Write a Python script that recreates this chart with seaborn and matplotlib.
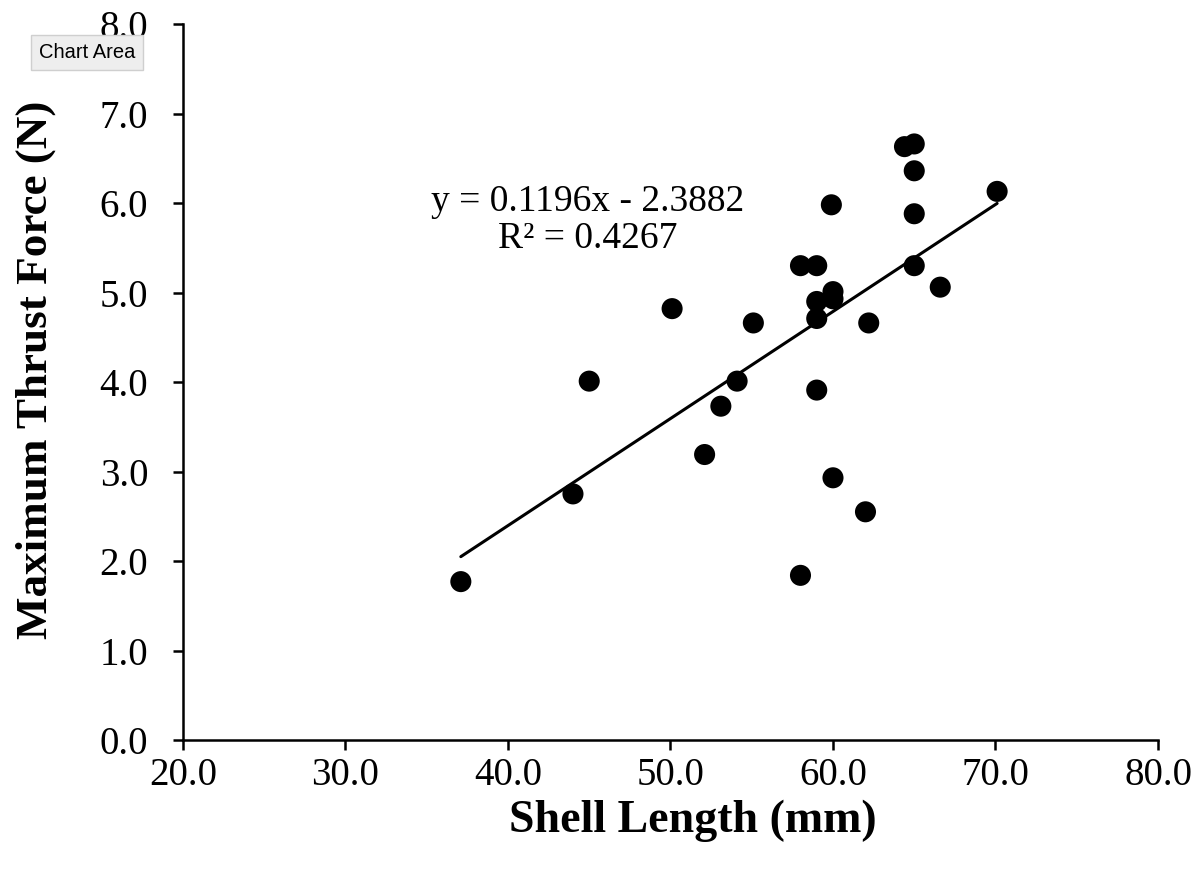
import numpy as np
import pandas as pd
import matplotlib
matplotlib.use("Agg")
import matplotlib.pyplot as plt
import seaborn as sns

# shell length (mm) and max thrust force (N)
shell_length = [37.1, 44.0, 45.0, 50.1, 52.1, 53.1, 54.1, 55.1, 58.0, 58.0,
                59.0, 59.0, 59.0, 59.0, 59.9, 60.0, 60.0, 60.0, 62.0, 62.2,
                64.4, 65.0, 65.0, 65.0, 65.0, 66.6, 70.1]
thrust_force = [1.77, 2.75, 4.01, 4.82, 3.19, 3.73, 4.01, 4.66, 5.30, 1.84,
                5.30, 4.90, 4.71, 3.91, 5.98, 5.01, 4.93, 2.93, 2.55, 4.66,
                6.63, 6.66, 6.36, 5.88, 5.30, 5.06, 6.13]

# trendline as reported on the chart
slope = 0.1196
intercept = -2.3882
r_squared = 0.4267

x_ticks = [20, 30, 40, 50, 60, 70, 80]
y_ticks = [0, 1, 2, 3, 4, 5, 6, 7, 8]

df = pd.DataFrame({'shell_length': shell_length, 'thrust_force': thrust_force})

sns.set_style('ticks')
plt.rcParams['font.family'] = ['Liberation Serif', 'DejaVu Serif']
plt.rcParams['text.color'] = 'black'
plt.rcParams['axes.labelcolor'] = 'black'

fig = plt.figure(figsize=(12.02, 8.73), dpi=100)
ax = fig.add_axes([0.1522, 0.1523, 0.8112, 0.8202])

sns.scatterplot(data=df, x='shell_length', y='thrust_force', ax=ax,
                color='black', s=230, edgecolor='none', zorder=3)

# linear trendline over the data range
line_x = np.array([min(shell_length), max(shell_length)])
ax.plot(line_x, slope * line_x + intercept, color='black', lw=2.2, zorder=2)

ax.text(44.9, 5.81, f'y = {slope}x - {abs(intercept)}\nR² = {r_squared}',
        ha='center', va='center', fontsize=27, linespacing=1.1, color='black')

ax.set_xlim(20, 80)
ax.set_ylim(0, 8)
ax.set_xticks(x_ticks)
ax.set_yticks(y_ticks)
ax.set_xticklabels([f'{t:.1f}' for t in x_ticks])
ax.set_yticklabels([f'{t:.1f}' for t in y_ticks])
ax.tick_params(axis='both', labelsize=28, length=7, width=1.8, colors='black')
ax.tick_params(axis='y', pad=18)
ax.tick_params(axis='x', pad=5)

for side in ['top', 'right']:
    ax.spines[side].set_visible(False)
for side in ['left', 'bottom']:
    ax.spines[side].set_linewidth(1.8)
    ax.spines[side].set_color('black')

ax.set_xlabel('Shell Length (mm)', fontsize=33, fontweight='bold')
ax.set_ylabel('Maximum Thrust Force (N)', fontsize=32.5, fontweight='bold')
ax.xaxis.set_label_coords(0.523, -0.083)
ax.yaxis.set_label_coords(-0.130, 0.517)

# the hover tooltip seen on the screenshot
fig.text(0.0724, 0.9395, 'Chart Area', family=['Liberation Sans', 'DejaVu Sans'],
         fontsize=14.5, ha='center', va='center',
         bbox=dict(boxstyle='square,pad=0.4', facecolor='#eeeeee', edgecolor='#cfcfcf'))

fig.savefig('out.png', dpi=100)
